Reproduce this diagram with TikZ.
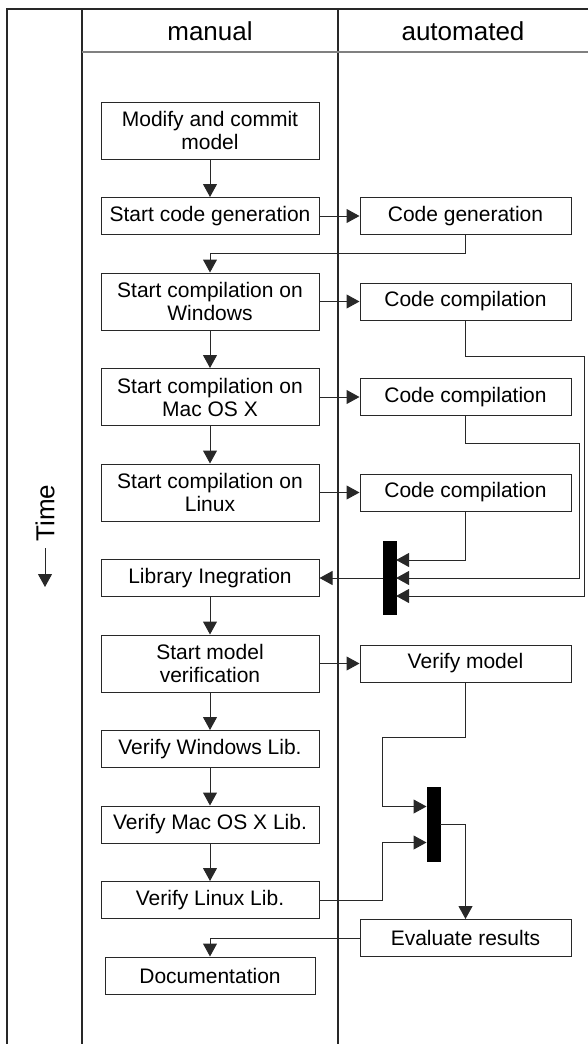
\documentclass[tikz,border=0pt]{standalone}
\usepackage{fontspec}
\setmainfont{Liberation Sans}
\usepackage{tikz}
\usetikzlibrary{arrows.meta,positioning}
\definecolor{lineblack}{RGB}{40,40,40}
\definecolor{headgray}{RGB}{128,128,128}
\tikzset{
  box/.style={
    rectangle,
    draw=lineblack,
    line width=0.5pt,
    align=center,
    minimum width=109pt,
    minimum height=18.5pt,
    inner sep=1pt,
    font=\fontsize{10.5}{11.5}\selectfont
  },
  tall/.style={minimum height=28.5pt},
  abox/.style={box, minimum width=105.5pt},
  bar/.style={
    rectangle,
    fill=black,
    draw=black,
    line width=0.3pt,
    minimum width=6.5pt,
    minimum height=36.5pt,
    inner sep=0pt
  },
  lane/.style={line width=0.6pt, draw=lineblack},
  head/.style={font=\fontsize{13}{15}\selectfont},
  arrow/.style={-{Triangle[length=6.5pt,width=7pt]}, line width=0.5pt, draw=lineblack}
}

\begin{document}
\begin{tikzpicture}[x=0.5pt, y=-0.5pt, node distance=18.75pt and 20pt]
  \useasboundingbox (0,0) rectangle (588,1044);

  % swimlanes
  \draw[lane] (7,1044) -- (7,9) -- (588,9);
  \draw[lane] (82,9) -- (82,1044);
  \draw[lane] (338,9) -- (338,1044);
  \draw[headgray, line width=1pt] (82,52) -- (588,52);
  \node[head] (manual) at (210,31) {manual};
  \node[head] (auto) at (463,31) {automated};

  % time axis
  \node[head, rotate=90] (time) at (45,513) {Time};
  \coordinate (tend) at (45,587);
  \draw[arrow] (time) -- (tend);

  % manual steps
  \node[box, tall] (mod) at (210,130.5) {Modify and commit\\model};
  \node[box, below=of mod] (gen) {Start code generation};
  \node[box, tall, below=of gen] (win) {Start compilation on\\Windows};
  \node[box, tall, below=of win] (mac) {Start compilation on\\Mac OS X};
  \node[box, tall, below=of mac] (lin) {Start compilation on\\Linux};
  \node[box, below=of lin] (lib) {Library Inegration};
  \node[box, tall, below=of lib] (ver) {Start model\\verification};
  \node[box, below=of ver] (vwin) {Verify Windows Lib.};
  \node[box, below=of vwin] (vmac) {Verify Mac OS X Lib.};
  \node[box, below=of vmac] (vlin) {Verify Linux Lib.};
  \node[box, below=of vlin, minimum width=105pt] (doc) {Documentation};

  % automated steps
  \node[abox, right=of gen] (cgen) {Code generation};
  \node[abox, right=of win] (cc1) {Code compilation};
  \node[abox, right=of mac] (cc2) {Code compilation};
  \node[abox, right=of lin] (cc3) {Code compilation};
  \node[abox, right=of ver] (vm) {Verify model};
  \node[abox, anchor=north] (eval) at (vm.south |- vlin.south) {Evaluate results};

  % sync bars
  \node[bar, right=31.5pt of lib] (bar1) {};
  \node[bar, minimum height=37pt, right=53.5pt of vmac] (bar2) {};

  \draw[arrow] (mod) -- (gen);
  \draw[arrow] (gen) -- (cgen);
  \draw[arrow] (cgen.south) -- ++(0,18.5) -| (win.north);
  \draw[arrow] (win) -- (cc1);
  \draw[arrow] (win) -- (mac);
  \draw[arrow] (mac) -- (cc2);
  \draw[arrow] (mac) -- (lin);
  \draw[arrow] (lin) -- (cc3);

  \draw[arrow] (cc3.south) |- ([yshift=9pt]bar1.east);
  \draw[arrow] (cc2.south) -- ++(0,27) -| ([xshift=91.5pt]bar1.east) -- (bar1.east);
  \draw[arrow] (cc1.south) -- ++(0,36) -| ([xshift=94pt,yshift=-9pt]bar1.east) -- ([yshift=-9pt]bar1.east);
  \draw[arrow] (bar1.west) -- (lib.east);

  \draw[arrow] (lib) -- (ver);
  \draw[arrow] (ver) -- (vm);
  \draw[arrow] (ver) -- (vwin);
  \draw[arrow] (vwin) -- (vmac);
  \draw[arrow] (vmac) -- (vlin);

  \draw[arrow] (vm.south) -- ++(0,55) -| ([xshift=-22pt,yshift=9pt]bar2.west) -- ([yshift=9pt]bar2.west);
  \draw[arrow] (vlin.east) -| ([xshift=-22pt,yshift=-9pt]bar2.west) -- ([yshift=-9pt]bar2.west);
  \draw[arrow] (bar2.east) -| (eval.north);
  \draw[arrow] (eval.west) -| (doc.north);
\end{tikzpicture}
\end{document}
